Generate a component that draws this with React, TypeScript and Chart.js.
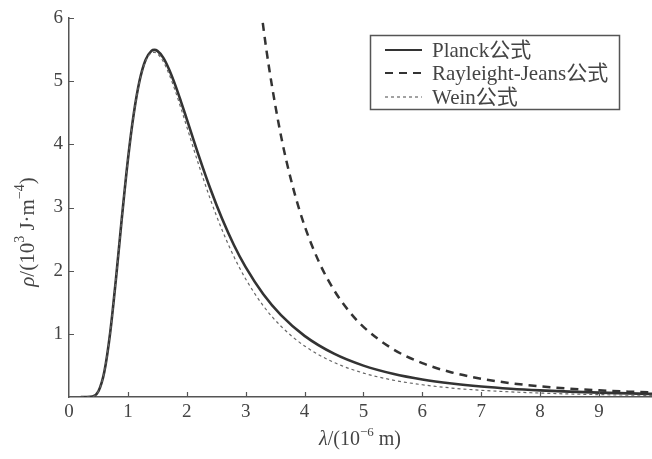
import React, { useEffect, useRef } from 'react';
import { Chart, registerables } from 'chart.js';

Chart.register(...registerables);

// wavelength (10^-6 m)
const lambdaValues = [0.2, 0.3, 0.4, 0.5, 0.6, 0.7, 0.8, 0.9, 1.0, 1.1, 1.2, 1.3, 1.4, 1.45, 1.5, 1.6, 1.7, 1.8, 1.9, 2.0, 2.2, 2.4, 2.6, 2.8, 3.0, 3.3, 3.6, 4.0, 4.5, 5.0, 5.5, 6.0, 6.5, 7.0, 7.5, 8.0, 8.5, 9.0, 9.5, 10.0];
// Planck (10^3 J·m^-4)
const planckValues = [0, 0.0001, 0.0075, 0.090, 0.399, 1.023, 1.895, 2.858, 3.755, 4.486, 5.013, 5.336, 5.480, 5.496, 5.480, 5.372, 5.185, 4.949, 4.681, 4.399, 3.829, 3.296, 2.820, 2.407, 2.055, 1.627, 1.296, 0.968, 0.686, 0.497, 0.368, 0.277, 0.213, 0.166, 0.131, 0.105, 0.085, 0.069, 0.057, 0.047];
// Wein (10^3 J·m^-4)
const weinValues = [0, 0.0001, 0.0075, 0.090, 0.399, 1.023, 1.895, 2.857, 3.752, 4.480, 5.001, 5.315, 5.448, 5.457, 5.435, 5.312, 5.110, 4.858, 4.575, 4.278, 3.684, 3.131, 2.643, 2.223, 1.869, 1.443, 1.120, 0.808, 0.547, 0.379, 0.268, 0.194, 0.142, 0.106, 0.081, 0.062, 0.048, 0.038, 0.030, 0.024];
// Rayleigh-Jeans
const rjLambdaValues = [3.0, 3.1, 3.2, 3.3, 3.4, 3.6, 3.8, 4.0, 4.25, 4.5, 4.75, 5.0, 5.5, 6.0, 6.5, 7.0, 7.5, 8.0, 8.5, 9.0, 9.5, 10.0];
const rjValues = [8.57, 7.518, 6.621, 5.855, 5.196, 4.134, 3.330, 2.712, 2.128, 1.693, 1.364, 1.111, 0.759, 0.536, 0.389, 0.289, 0.219, 0.170, 0.133, 0.106, 0.085, 0.069];

const xTickValues = [0, 1, 2, 3, 4, 5, 6, 7, 8, 9];
const yTickValues = [1, 2, 3, 4, 5, 6];
const seriesLabels = ['Planck公式', 'Rayleight-Jeans公式', 'Wein公式'];

const SERIF = '"Liberation Serif", "Times New Roman", "Noto Sans CJK SC", serif';
const INK = '#333333';
const AXIS = '#555555';

type Part = { t: string; italic?: boolean; sup?: boolean };

function drawRich(ctx: CanvasRenderingContext2D, parts: Part[], size: number) {
  const supSize = Math.round(size * 0.65);
  const fontFor = (p: Part) => `${p.italic ? 'italic ' : ''}${p.sup ? supSize : size}px ${SERIF}`;
  let total = 0;
  for (const p of parts) {
    ctx.font = fontFor(p);
    total += ctx.measureText(p.t).width;
  }
  let x = -total / 2;
  ctx.textBaseline = 'middle';
  ctx.textAlign = 'left';
  for (const p of parts) {
    ctx.font = fontFor(p);
    ctx.fillText(p.t, x, p.sup ? -size * 0.35 : 0);
    x += ctx.measureText(p.t).width;
  }
}

const decorPlugin = {
  id: 'decor',
  afterDraw(chart: any) {
    const ctx: CanvasRenderingContext2D = chart.ctx;
    const { left, bottom } = chart.chartArea;
    const xs = chart.scales.x;
    const ys = chart.scales.y;
    ctx.save();
    // inward ticks
    ctx.strokeStyle = AXIS;
    ctx.lineWidth = 1.2;
    ctx.beginPath();
    for (const v of xTickValues) {
      if (v === 0) continue;
      const px = Math.round(xs.getPixelForValue(v)) + 0.5;
      ctx.moveTo(px, bottom);
      ctx.lineTo(px, bottom - 5);
    }
    for (const v of yTickValues) {
      const py = Math.round(ys.getPixelForValue(v)) + 0.5;
      ctx.moveTo(left, py);
      ctx.lineTo(left + 5, py);
    }
    ctx.stroke();

    // axis titles
    ctx.fillStyle = '#444';
    ctx.save();
    ctx.translate(360, 440);
    drawRich(ctx, [
      { t: 'λ', italic: true },
      { t: '/(10' },
      { t: '−6', sup: true },
      { t: ' m)' },
    ], 20);
    ctx.restore();
    ctx.save();
    ctx.translate(28, 232);
    ctx.rotate(-Math.PI / 2);
    drawRich(ctx, [
      { t: 'ρ', italic: true },
      { t: '/(10' },
      { t: '3', sup: true },
      { t: ' J·m' },
      { t: '−4', sup: true },
      { t: ')' },
    ], 21);
    ctx.restore();

    // legend
    const bx = 370.5, by = 35.5, bw = 249, bh = 74;
    ctx.fillStyle = '#ffffff';
    ctx.fillRect(bx, by, bw, bh);
    ctx.strokeStyle = '#555';
    ctx.lineWidth = 1.5;
    ctx.strokeRect(bx, by, bw, bh);
    const rows = [50, 73, 97];
    const styles = [
      { dash: [] as number[], w: 2.2, c: INK },
      { dash: [8, 6], w: 2.2, c: INK },
      { dash: [3, 3], w: 1.2, c: '#666' },
    ];
    for (let i = 0; i < 3; i++) {
      const y = rows[i];
      ctx.setLineDash(styles[i].dash);
      ctx.lineWidth = styles[i].w;
      ctx.strokeStyle = styles[i].c;
      ctx.beginPath();
      ctx.moveTo(385, y);
      ctx.lineTo(422, y);
      ctx.stroke();
      ctx.setLineDash([]);
      ctx.fillStyle = '#444';
      ctx.font = `21px ${SERIF}`;
      ctx.textAlign = 'left';
      ctx.textBaseline = 'middle';
      ctx.fillText(seriesLabels[i], 432, y + 1);
    }
    ctx.restore();
  },
};

export default function App() {
  const canvasRef = useRef<HTMLCanvasElement | null>(null);

  useEffect(() => {
    if (!canvasRef.current) return;
    const planckData = lambdaValues.map((x, i) => ({ x, y: planckValues[i] }));
    const weinData = lambdaValues.map((x, i) => ({ x, y: weinValues[i] }));
    const rjData = rjLambdaValues.map((x, i) => ({ x, y: rjValues[i] }));

    const chart = new Chart(canvasRef.current, {
      type: 'line',
      data: {
        datasets: [
          {
            label: seriesLabels[2],
            data: weinData,
            borderColor: '#666',
            borderWidth: 1.2,
            borderDash: [3, 3],
            pointRadius: 0,
            cubicInterpolationMode: 'monotone',
            fill: false,
          },
          {
            label: seriesLabels[1],
            data: rjData,
            borderColor: INK,
            borderWidth: 2.5,
            borderDash: [8, 6],
            pointRadius: 0,
            cubicInterpolationMode: 'monotone',
            fill: false,
          },
          {
            label: seriesLabels[0],
            data: planckData,
            borderColor: INK,
            borderWidth: 2.6,
            pointRadius: 0,
            cubicInterpolationMode: 'monotone',
            fill: false,
          },
        ],
      },
      options: {
        animation: false,
        responsive: false,
        layout: { padding: { top: 18, right: 0, left: 0, bottom: 0 } },
        plugins: {
          legend: { display: false },
          tooltip: { enabled: false },
        },
        scales: {
          x: {
            type: 'linear',
            min: 0,
            max: 9.9,
            afterFit: (s: any) => { s.height = 62; },
            border: { display: true, color: AXIS, width: 1.5 },
            grid: { display: true, drawOnChartArea: false, drawTicks: false },
            ticks: {
              stepSize: 1,
              includeBounds: false,
              padding: 4,
              color: '#444',
              font: { family: SERIF, size: 19 },
              callback: (v: any) => String(v),
            },
          },
          y: {
            type: 'linear',
            min: 0,
            max: 6,
            afterFit: (s: any) => { s.width = 69; },
            border: { display: true, color: AXIS, width: 1.5 },
            grid: { display: true, drawOnChartArea: false, drawTicks: false },
            ticks: {
              stepSize: 1,
              padding: 6,
              color: '#444',
              font: { family: SERIF, size: 19 },
              callback: (v: any) => (v === 0 ? '' : String(v)),
            },
          },
        },
      },
      plugins: [decorPlugin],
    });
    return () => chart.destroy();
  }, []);

  return (
    <div style={{ position: 'fixed', left: 0, top: 0, width: 652, height: 459, background: '#fff' }}>
      <canvas ref={canvasRef} width={652} height={459} style={{ width: 652, height: 459 }} />
    </div>
  );
}
